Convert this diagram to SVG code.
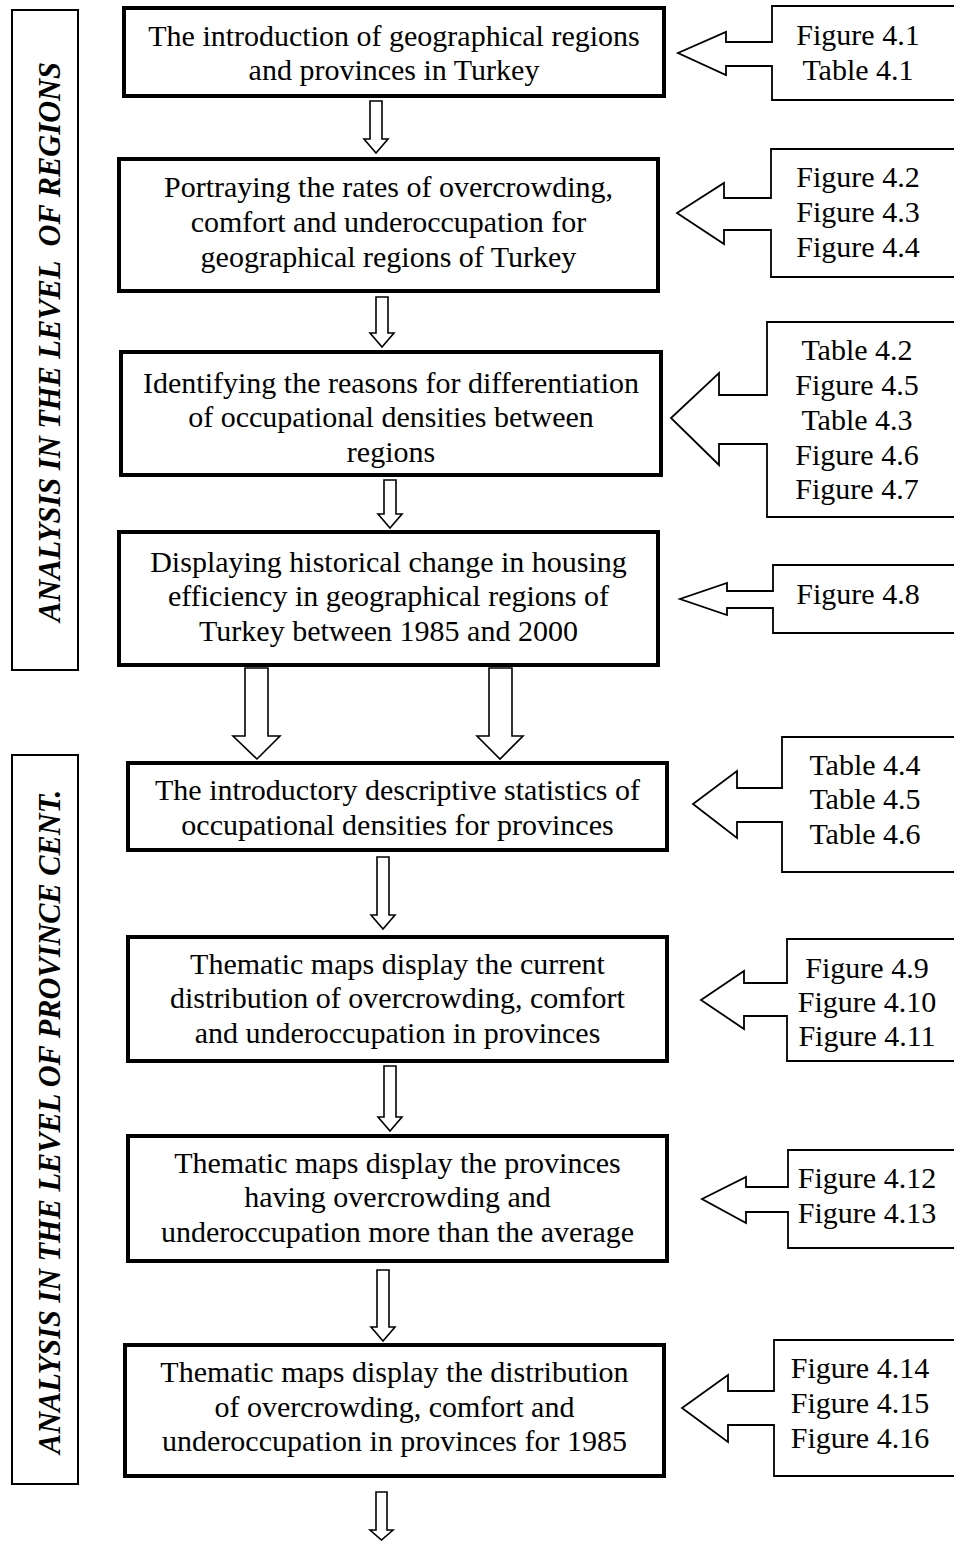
<svg xmlns="http://www.w3.org/2000/svg" width="954" height="1541" viewBox="0 0 954 1541">
  <style>
    .bg { fill: #ffffff; }
    .step { fill: #ffffff; stroke: #000000; stroke-width: 4; }
    .band { fill: #ffffff; stroke: #000000; stroke-width: 2; }
    .ref { fill: #ffffff; stroke: #000000; stroke-width: 1.8; stroke-linejoin: miter; }
    .flow { fill: #ffffff; stroke: #000000; stroke-width: 1.6; stroke-linejoin: miter; }
    .t { font-family: "Liberation Serif", "Times New Roman", serif; font-size: 30px; fill: #000000; text-anchor: middle; }
    .side { font-family: "Liberation Serif", "Times New Roman", serif; font-size: 31px; font-weight: bold; font-style: italic; fill: #000000; text-anchor: middle; }
  </style>
  <rect class="bg" x="0" y="0" width="954" height="1541"/>

  <!-- side bands -->
  <g id="band-regions">
    <rect class="band" x="12" y="10" width="66" height="660"/>
    <text class="side" xml:space="preserve" transform="translate(60,342) rotate(-90)" textLength="560" lengthAdjust="spacingAndGlyphs">ANALYSIS IN THE LEVEL  OF REGIONS</text>
  </g>
  <g id="band-provinces">
    <rect class="band" x="12" y="755" width="66" height="729"/>
    <text class="side" transform="translate(60,1122) rotate(-90)" textLength="664" lengthAdjust="spacingAndGlyphs">ANALYSIS IN THE LEVEL OF PROVINCE CENT.</text>
  </g>

  <!-- process steps -->
  <g id="step1">
    <rect class="step" x="124" y="8" width="540" height="88"/>
    <text class="t" x="394" y="46">The introduction of geographical regions</text>
    <text class="t" x="394" y="80">and provinces in Turkey</text>
  </g>
  <g id="step2">
    <rect class="step" x="119" y="159" width="539" height="132"/>
    <text class="t" x="388.5" y="197">Portraying the rates of overcrowding,</text>
    <text class="t" x="388.5" y="232">comfort and underoccupation for</text>
    <text class="t" x="388.5" y="267">geographical regions of Turkey</text>
  </g>
  <g id="step3">
    <rect class="step" x="121" y="352" width="540" height="123"/>
    <text class="t" x="391" y="393">Identifying the reasons for differentiation</text>
    <text class="t" x="391" y="427">of occupational densities between</text>
    <text class="t" x="391" y="462">regions</text>
  </g>
  <g id="step4">
    <rect class="step" x="119" y="532" width="539" height="133"/>
    <text class="t" x="388.5" y="572">Displaying historical change in housing</text>
    <text class="t" x="388.5" y="606">efficiency in geographical regions of</text>
    <text class="t" x="388.5" y="641">Turkey between 1985 and 2000</text>
  </g>
  <g id="step5">
    <rect class="step" x="128" y="763" width="539" height="87"/>
    <text class="t" x="397.5" y="800">The introductory descriptive statistics of</text>
    <text class="t" x="397.5" y="835">occupational densities for provinces</text>
  </g>
  <g id="step6">
    <rect class="step" x="128" y="937" width="539" height="124"/>
    <text class="t" x="397.5" y="974">Thematic maps display the current</text>
    <text class="t" x="397.5" y="1008">distribution of overcrowding, comfort</text>
    <text class="t" x="397.5" y="1043">and underoccupation in provinces</text>
  </g>
  <g id="step7">
    <rect class="step" x="128" y="1136" width="539" height="125"/>
    <text class="t" x="397.5" y="1173">Thematic maps display the provinces</text>
    <text class="t" x="397.5" y="1207">having overcrowding and</text>
    <text class="t" x="397.5" y="1242">underoccupation more than the average</text>
  </g>
  <g id="step8">
    <rect class="step" x="125" y="1345" width="539" height="131"/>
    <text class="t" x="394.5" y="1382">Thematic maps display the distribution</text>
    <text class="t" x="394.5" y="1417">of overcrowding, comfort and</text>
    <text class="t" x="394.5" y="1451">underoccupation in provinces for 1985</text>
  </g>

  <!-- source callouts: box open to the right with a block arrow pointing at the step -->
  <g id="refs1">
    <path class="ref" d="M958,6 H772 V42 H726 V32 L678,53 L726,75 V66 H772 V100 H958"/>
    <text class="t" x="858" y="45">Figure 4.1</text>
    <text class="t" x="858" y="80">Table 4.1</text>
  </g>
  <g id="refs2">
    <path class="ref" d="M958,149 H771 V198 H724 V183 L677,213 L724,244 V230 H771 V277 H958"/>
    <text class="t" x="858" y="187">Figure 4.2</text>
    <text class="t" x="858" y="222">Figure 4.3</text>
    <text class="t" x="858" y="257">Figure 4.4</text>
  </g>
  <g id="refs3">
    <path class="ref" d="M958,322 H767 V395 H719 V373 L671,418 L719,465 V444 H767 V517 H958"/>
    <text class="t" x="857" y="360">Table 4.2</text>
    <text class="t" x="857" y="395">Figure 4.5</text>
    <text class="t" x="857" y="430">Table 4.3</text>
    <text class="t" x="857" y="465">Figure 4.6</text>
    <text class="t" x="857" y="499">Figure 4.7</text>
  </g>
  <g id="refs4">
    <path class="ref" d="M958,565 H773 V591 H727 V583 L680,599 L727,615 V608 H773 V633 H958"/>
    <text class="t" x="858" y="604">Figure 4.8</text>
  </g>
  <g id="refs5">
    <path class="ref" d="M958,737 H782 V788 H737 V771 L693,804 L737,838 V822 H782 V872 H958"/>
    <text class="t" x="865" y="775">Table 4.4</text>
    <text class="t" x="865" y="809">Table 4.5</text>
    <text class="t" x="865" y="844">Table 4.6</text>
  </g>
  <g id="refs6">
    <path class="ref" d="M958,939 H787 V983 H744 V971 L701,1000 L744,1029 V1016 H787 V1061 H958"/>
    <text class="t" x="867" y="978">Figure 4.9</text>
    <text class="t" x="867" y="1012">Figure 4.10</text>
    <text class="t" x="867" y="1046">Figure 4.11</text>
  </g>
  <g id="refs7">
    <path class="ref" d="M958,1150 H788 V1187 H746 V1177 L702,1199 L746,1223 V1212 H788 V1248 H958"/>
    <text class="t" x="867" y="1188">Figure 4.12</text>
    <text class="t" x="867" y="1223">Figure 4.13</text>
  </g>
  <g id="refs8">
    <path class="ref" d="M958,1340 H774 V1391 H728 V1375 L682,1408 L728,1442 V1425 H774 V1476 H958"/>
    <text class="t" x="860" y="1378">Figure 4.14</text>
    <text class="t" x="860" y="1413">Figure 4.15</text>
    <text class="t" x="860" y="1448">Figure 4.16</text>
  </g>

  <!-- hollow block arrows between steps -->
  <g id="connectors">
    <path class="flow" d="M370,101 H382 V139 H388 L376,153 L364,139 H370 Z"/>
    <path class="flow" d="M376,297 H388 V333 H394 L382,347 L370,333 H376 Z"/>
    <path class="flow" d="M384,480 H396 V514 H402 L390,528 L378,514 H384 Z"/>
    <path class="flow" d="M245,668 H268 V736 H280 L257,759 L233,736 H245 Z"/>
    <path class="flow" d="M489,668 H512 V736 H523 L500,759 L477,736 H489 Z"/>
    <path class="flow" d="M377,857 H389 V915 H395 L383,929 L371,915 H377 Z"/>
    <path class="flow" d="M384,1066 H396 V1117 H402 L390,1131 L378,1117 H384 Z"/>
    <path class="flow" d="M377,1270 H389 V1327 H395 L383,1341 L371,1327 H377 Z"/>
    <path class="flow" d="M376,1492 H387 V1530 H393 L381.5,1540 L370,1530 H376 Z"/>
  </g>
</svg>
